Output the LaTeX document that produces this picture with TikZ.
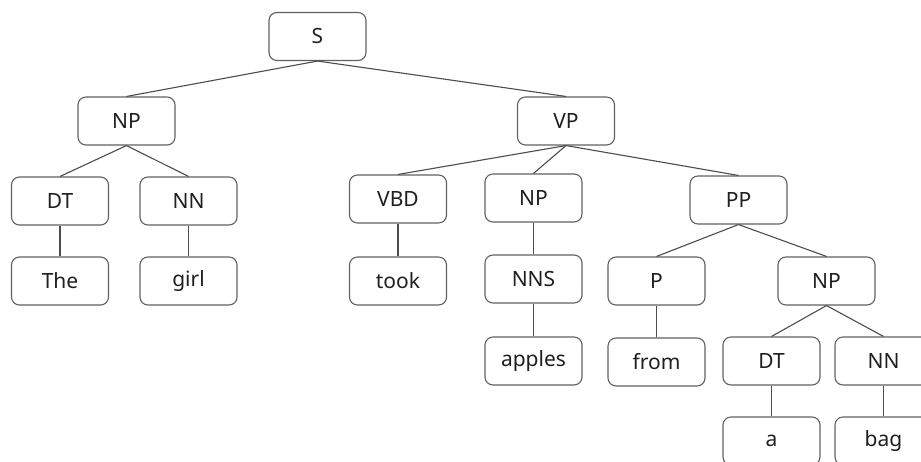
\documentclass[tikz,border=0pt]{standalone}
\usepackage{fontspec}
\setmainfont{Noto Sans}
\begin{document}
\begin{tikzpicture}[x=1pt,y=-1pt,
  tbox/.style={draw=black!62, line width=1.1pt, rounded corners=8pt, minimum width=97pt, minimum height=48pt, inner sep=0pt, font=\fontsize{21}{25}\selectfont, text=black!88},
  edge/.style={draw=black!70, line width=1.1pt}]
\useasboundingbox (0,0) rectangle (921,461);
\clip (0,0) rectangle (921,461);
\node[tbox] (S) at (317.5,36.5) {S};
\node[tbox] (NPa) at (126.5,121) {NP};
\node[tbox] (VP) at (566,121) {VP};
\node[tbox] (DTa) at (60,201) {DT};
\node[tbox] (NNa) at (188.5,201) {NN};
\node[tbox] (The) at (60,281) {The};
\node[tbox] (girl) at (188.5,281) {girl};
\node[tbox] (VBD) at (398,199) {VBD};
\node[tbox] (NPb) at (533.5,198) {NP};
\node[tbox] (PP) at (738.5,200) {PP};
\node[tbox] (took) at (398,281) {took};
\node[tbox] (NNS) at (533.5,279) {NNS};
\node[tbox] (P) at (656.5,281) {P};
\node[tbox] (NPc) at (826.5,281) {NP};
\node[tbox] (apples) at (533.5,361) {apples};
\node[tbox] (from) at (656.5,362) {from};
\node[tbox] (DTb) at (771.5,361) {DT};
\node[tbox] (NNb) at (883.5,361) {NN};
\node[tbox] (a) at (771.5,441) {a};
\node[tbox] (bag) at (883.5,441) {bag};
\draw[edge] (S.south) -- (NPa.north);
\draw[edge] (S.south) -- (VP.north);
\draw[edge] (NPa.south) -- (DTa.north);
\draw[edge] (NPa.south) -- (NNa.north);
\draw[edge] (DTa.south) -- (The.north);
\draw[edge] (NNa.south) -- (girl.north);
\draw[edge] (VP.south) -- (VBD.north);
\draw[edge] (VP.south) -- (NPb.north);
\draw[edge] (VP.south) -- (PP.north);
\draw[edge] (VBD.south) -- (took.north);
\draw[edge] (NPb.south) -- (NNS.north);
\draw[edge] (NNS.south) -- (apples.north);
\draw[edge] (PP.south) -- (P.north);
\draw[edge] (PP.south) -- (NPc.north);
\draw[edge] (P.south) -- (from.north);
\draw[edge] (NPc.south) -- (DTb.north);
\draw[edge] (NPc.south) -- (NNb.north);
\draw[edge] (DTb.south) -- (a.north);
\draw[edge] (NNb.south) -- (bag.north);
\end{tikzpicture}
\end{document}
